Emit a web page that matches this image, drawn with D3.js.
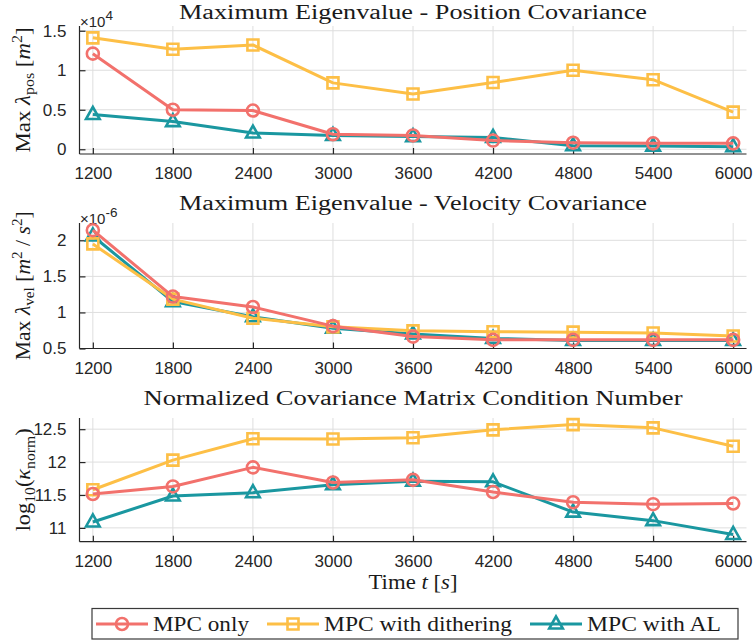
<!DOCTYPE html>
<html>
<head>
<meta charset="utf-8">
<script src="https://cdn.jsdelivr.net/npm/d3@7"></script>
<style>
  body { margin: 0; background: #fff; }
  svg { display: block; }
</style>
</head>
<body>
<svg id="chart" width="754" height="642"></svg>
<script>
// data
var times = [1200, 1800, 2400, 3000, 3600, 4200, 4800, 5400, 6000];
var seriesNames = ["MPC only", "MPC with dithering", "MPC with AL"];

// max eigenvalue, position covariance (x 1e4 m^2)
var posOnly   = [1.21, 0.50, 0.49, 0.19, 0.175, 0.11, 0.083, 0.075, 0.075];
var posDither = [1.41, 1.265, 1.32, 0.84, 0.70, 0.845, 1.00, 0.88, 0.47];
var posAL     = [0.44, 0.35, 0.205, 0.175, 0.16, 0.15, 0.045, 0.04, 0.033];

// max eigenvalue, velocity covariance (x 1e-6 m^2/s^2)
var velOnly   = [2.14, 1.22, 1.075, 0.81, 0.665, 0.62, 0.62, 0.62, 0.62];
var velDither = [1.95, 1.185, 0.92, 0.80, 0.745, 0.733, 0.727, 0.715, 0.673];
var velAL     = [2.06, 1.15, 0.94, 0.78, 0.70, 0.64, 0.61, 0.61, 0.61];

// log10 of normalized condition number
var condOnly   = [11.515, 11.63, 11.92, 11.69, 11.73, 11.545, 11.39, 11.36, 11.37];
var condDither = [11.58, 12.03, 12.355, 12.35, 12.37, 12.49, 12.57, 12.52, 12.24];
var condAL     = [11.09, 11.485, 11.535, 11.655, 11.71, 11.70, 11.24, 11.11, 10.90];

var posTicks = [0, 0.5, 1, 1.5];
var velTicks = [0.5, 1, 1.5, 2];
var condTicks = [11, 11.5, 12, 12.5];

var colors = ["#F2716C", "#FDBF46", "#1A97A0"];
var markers = ["circle", "square", "triangle"];

var svg = d3.select("#chart");
var serif = "'Liberation Serif', 'Times New Roman', serif";
var sans = "'Liberation Sans', Arial, sans-serif";

var x = d3.scaleLinear().domain([1100, 6100]).range([79.5, 746.5]);

// text made of several pieces (italic, sub/superscripts)
function richText(sel, parts, size) {
    var back = 0;
    parts.forEach(function(p) {
        var ts = sel.append("tspan").text(p.t);
        if (p.it) ts.attr("font-style", "italic");
        var dy = back + (p.shift || 0);
        if (dy) ts.attr("dy", dy);
        if (p.shift) ts.attr("font-size", size * 0.7);
        back = -(p.shift || 0);
    });
}

function markerPath(type) {
    if (type === "circle") return d3.symbol().type(d3.symbolCircle).size(Math.PI * 36)();
    if (type === "square") return "M-5.5,-5.5H5.5V5.5H-5.5Z";
    return "M0,-7.5L6.8,4.5L-6.8,4.5Z";
}

var panels = [
    {title: "Maximum Eigenvalue - Position Covariance", titleY: 18.5,
     top: 26, bottom: 154, domain: [-0.06, 1.56], ticks: posTicks,
     data: [posOnly, posDither, posAL], exp: "4",
     label: [{t: "Max "}, {t: "\u03bb", it: true}, {t: "pos", shift: 4}, {t: " ["}, {t: "m", it: true}, {t: "2", shift: -8}, {t: "]"}]},
    {title: "Maximum Eigenvalue - Velocity Covariance", titleY: 210,
     top: 223, bottom: 348.5, domain: [0.5, 2.24], ticks: velTicks,
     data: [velOnly, velDither, velAL], exp: "-6",
     label: [{t: "Max "}, {t: "\u03bb", it: true}, {t: "vel", shift: 4}, {t: " ["}, {t: "m", it: true}, {t: "2", shift: -8}, {t: " / "}, {t: "s", it: true}, {t: "2", shift: -8}, {t: "]"}]},
    {title: "Normalized Covariance Matrix Condition Number", titleY: 405,
     top: 418, bottom: 541.7, domain: [10.79, 12.67], ticks: condTicks,
     data: [condOnly, condDither, condAL], exp: null,
     label: [{t: "log"}, {t: "10", shift: 5}, {t: "("}, {t: "\u03ba", it: true}, {t: "norm", shift: 5}, {t: ")"}]}
];

var titleLens = [468, 468, 539];
var labelLens = [125, 149, 103];

panels.forEach(function(p, pi) {
    var y = d3.scaleLinear().domain(p.domain).range([p.bottom, p.top]);
    var g = svg.append("g");

    // grid
    g.selectAll(".vgrid").data(times).enter().append("line")
        .attr("x1", function(d) { return x(d); }).attr("x2", function(d) { return x(d); })
        .attr("y1", p.top).attr("y2", p.bottom)
        .attr("stroke", "#dedede").attr("stroke-width", 1);
    g.selectAll(".hgrid").data(p.ticks).enter().append("line")
        .attr("x1", x.range()[0]).attr("x2", x.range()[1])
        .attr("y1", function(d) { return y(d); }).attr("y2", function(d) { return y(d); })
        .attr("stroke", "#dedede").attr("stroke-width", 1);

    // axes
    var xAxis = d3.axisBottom(x).tickValues(times).tickSizeInner(-6).tickSizeOuter(0).tickPadding(13)
        .tickFormat(d3.format("d"));
    var gx = g.append("g").attr("transform", "translate(0," + p.bottom + ")").call(xAxis);
    var yAxis = d3.axisLeft(y).tickValues(p.ticks).tickSizeInner(-6).tickSizeOuter(0).tickPadding(13)
        .tickFormat(d3.format("~g"));
    var gy = g.append("g").attr("transform", "translate(" + x.range()[0] + ",0)").call(yAxis);
    [gx, gy].forEach(function(a) {
        a.select(".domain").attr("stroke", "#262626").attr("stroke-width", 1.2);
        a.selectAll(".tick line").attr("stroke", "#262626").attr("stroke-width", 1.2);
        a.selectAll(".tick text").attr("font-family", sans).attr("font-size", 17).attr("fill", "#262626");
    });
    gy.select(".domain").attr("d", "M0," + p.top + "V" + p.bottom);
    gx.select(".domain").attr("d", "M" + x.range()[0] + ",0H" + x.range()[1]);

    // exponent label
    if (p.exp) {
        var et = g.append("text").attr("x", 80).attr("y", p.top + 1)
            .attr("font-family", sans).attr("font-size", 15).attr("fill", "#262626");
        et.append("tspan").text("\u00d710");
        et.append("tspan").attr("dy", -7).attr("font-size", 13.5).text(p.exp);
    }

    // title
    g.append("text").attr("x", (x.range()[0] + x.range()[1]) / 2).attr("y", p.titleY)
        .attr("text-anchor", "middle").attr("font-family", serif).attr("font-size", 20)
        .attr("fill", "#1a1a1a").attr("textLength", titleLens[pi]).attr("lengthAdjust", "spacingAndGlyphs")
        .text(p.title);

    // y label
    var yl = g.append("text")
        .attr("transform", "translate(30," + ((p.top + p.bottom) / 2) + ") rotate(-90)")
        .attr("text-anchor", "middle").attr("font-family", serif).attr("font-size", 21).attr("fill", "#1a1a1a")
        .attr("textLength", labelLens[pi]).attr("lengthAdjust", "spacingAndGlyphs");
    richText(yl, p.label, 21);

    // series: teal, yellow, red order
    [2, 1, 0].forEach(function(si) {
        var vals = p.data[si];
        var pts = times.map(function(t, i) { return [x(t), y(vals[i])]; });
        g.append("path").attr("d", d3.line()(pts))
            .attr("fill", "none").attr("stroke", colors[si]).attr("stroke-width", 3)
            .attr("stroke-linejoin", "round");
        g.selectAll(".m" + si).data(pts).enter().append("path")
            .attr("transform", function(d) { return "translate(" + d[0] + "," + d[1] + ")"; })
            .attr("d", markerPath(markers[si]))
            .attr("fill", "none").attr("stroke", colors[si]).attr("stroke-width", 2.6);
    });
});

// x label
var xl = svg.append("text").attr("x", 413).attr("y", 589).attr("text-anchor", "middle")
    .attr("font-family", serif).attr("font-size", 21).attr("fill", "#1a1a1a")
    .attr("textLength", 89).attr("lengthAdjust", "spacingAndGlyphs");
richText(xl, [{t: "Time "}, {t: "t", it: true}, {t: " ["}, {t: "s", it: true}, {t: "]"}], 21);

// legend
var legend = svg.append("g");
legend.append("rect").attr("x", 92).attr("y", 608.5).attr("width", 646).attr("height", 30.5)
    .attr("fill", "#fff").attr("stroke", "#3a3a3a").attr("stroke-width", 1.2);
var legX = [96, 267, 530];
var legLen = [96, 188, 134];
seriesNames.forEach(function(name, i) {
    var lg = legend.append("g");
    lg.append("line").attr("x1", legX[i]).attr("x2", legX[i] + 52).attr("y1", 624).attr("y2", 624)
        .attr("stroke", colors[i]).attr("stroke-width", 3);
    lg.append("path").attr("transform", "translate(" + (legX[i] + 26) + ",624)")
        .attr("d", markerPath(markers[i])).attr("fill", "none")
        .attr("stroke", colors[i]).attr("stroke-width", 2.6);
    lg.append("text").attr("x", legX[i] + 57).attr("y", 631)
        .attr("font-family", serif).attr("font-size", 20).attr("fill", "#1a1a1a")
        .attr("textLength", legLen[i]).attr("lengthAdjust", "spacingAndGlyphs")
        .text(name);
});
</script>
</body>
</html>
